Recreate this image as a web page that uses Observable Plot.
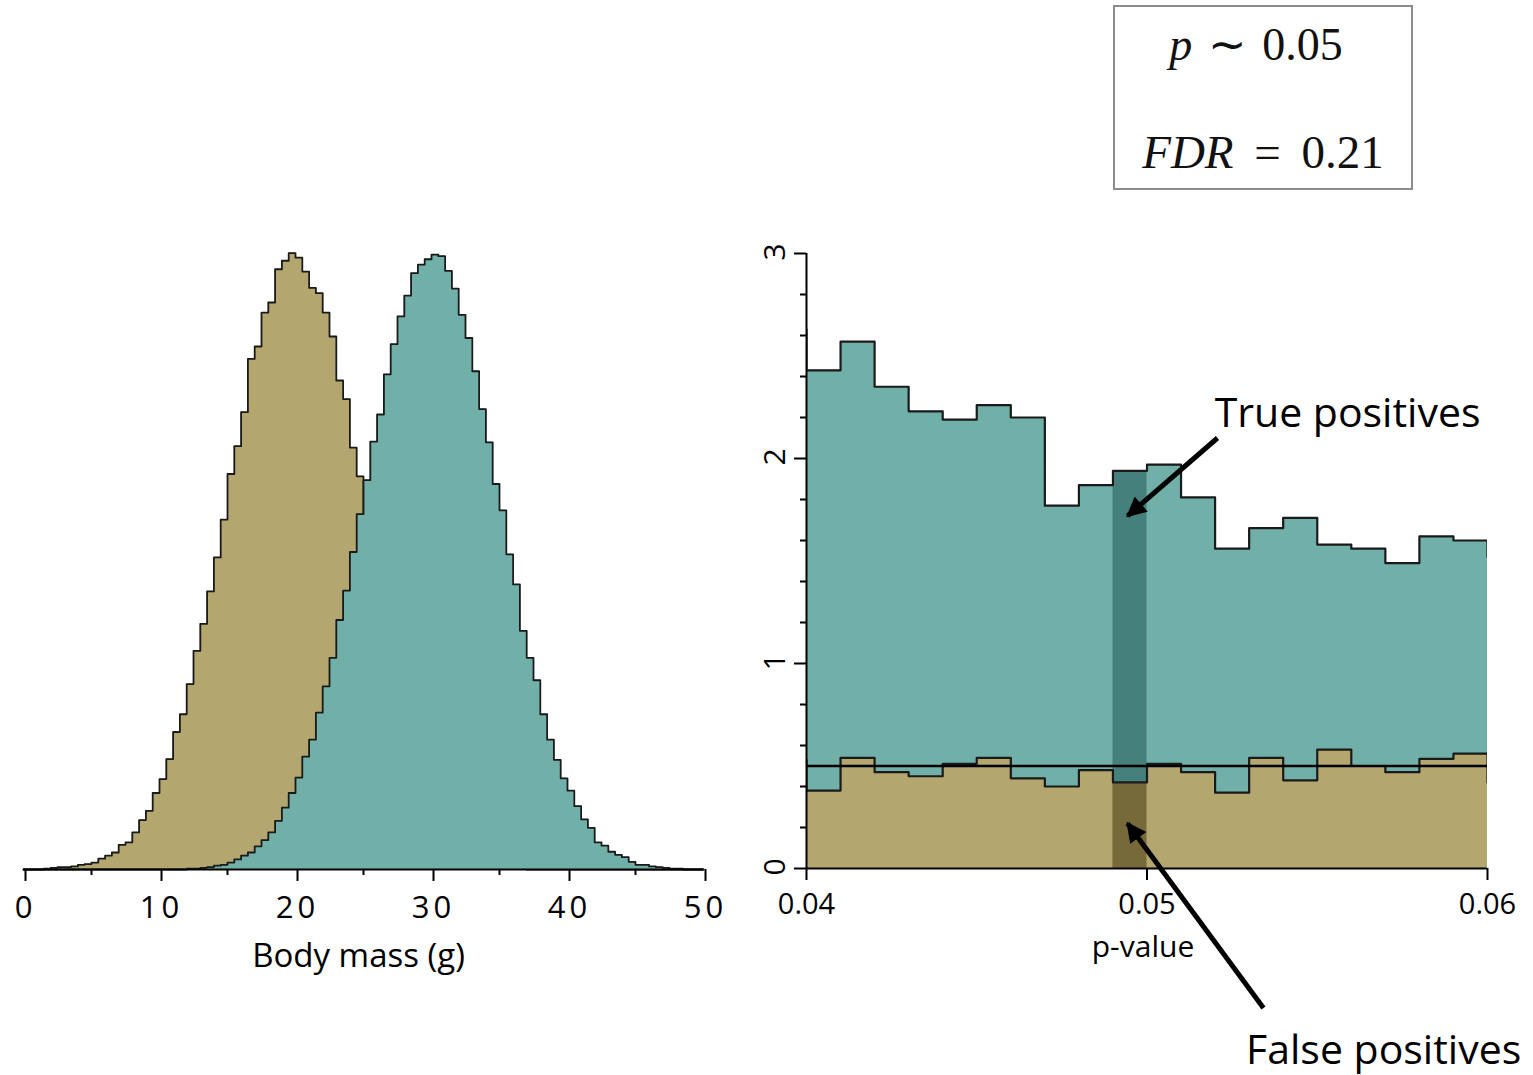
<!DOCTYPE html>
<html><head><meta charset="utf-8">
<script src="https://cdn.jsdelivr.net/npm/d3@7"></script>
<script src="https://cdn.jsdelivr.net/npm/@observablehq/plot@0.6"></script>
<style>
body{margin:0;background:#fff;width:1533px;height:1075px;position:relative;overflow:hidden;font-family:"Open Sans",sans-serif}
#left,#right{position:absolute;top:0}
#left{left:0}
#right{left:740px}
#left g[aria-label="x-axis tick label"] text{letter-spacing:4px}
#box{position:absolute;left:1113px;top:5px;width:296px;height:181px;border:2px solid #8c8c8c;font-family:"Liberation Serif",serif;font-size:46px;color:#111}
#box .ln{position:absolute;left:0;width:100%;text-align:center;line-height:50px;white-space:nowrap}
</style></head><body>
<div id="left"></div>
<div id="right"></div>
<div id="box">
  <div class="ln" style="top:13px;left:-7px;word-spacing:4px"><i>p</i> ∼ 0.05</div>
  <div class="ln" style="top:120px;word-spacing:9px;font-size:47px"><i>FDR</i> = 0.21</div>
</div>
<script>
// ---------- Left panel: body-mass histograms (bins of 0.5 g from 0 to 50 g) ----------
const massBinStart = 0;
const massBinWidth = 0.5;
// null population (mean ~20 g)
const nullMass = [
  0, 0, 0, 0.1, 0.2, 0.3, 0.3, 0.4, 0.6, 0.7,
  0.9, 1.4, 1.8, 2.2, 3.2, 3.5, 4.8, 6.4, 7.6, 9.9,
  11.7, 14.3, 17.8, 20.1, 24.0, 28.3, 31.8, 36.0, 40.4, 45.3,
  51.2, 54.8, 59.2, 66.1, 67.7, 72.1, 73.4, 77.7, 78.8, 79.8,
  79.2, 77.4, 75.3, 74.6, 72.1, 69.0, 63.3, 60.9, 54.6, 50.9,
  46.0, 41.5, 36.5, 32.0, 28.0, 24.0, 20.0, 17.0, 14.0, 11.5,
  9.5, 7.5, 6.0, 4.5, 3.5, 2.6, 2.0, 1.4, 1.0, 0.7,
  0.5, 0.3, 0.2, 0.1, 0, 0, 0, 0, 0, 0,
  0, 0, 0, 0, 0, 0, 0, 0, 0, 0,
  0, 0, 0, 0, 0, 0, 0, 0, 0, 0
];
// effect population (mean ~30 g)
const effectMass = [
  0, 0, 0, 0, 0, 0, 0, 0, 0, 0,
  0, 0, 0, 0, 0, 0, 0, 0, 0, 0,
  0, 0, 0, 0, 0.1, 0.1, 0.2, 0.3, 0.5, 0.6,
  0.9, 1.3, 1.8, 2.2, 3.0, 3.8, 4.8, 6.3, 8.0, 9.9,
  11.9, 14.6, 16.8, 20.3, 23.7, 27.4, 32.3, 36.1, 41.1, 46.0,
  50.4, 55.4, 58.9, 64.1, 68.0, 71.6, 74.3, 77.2, 78.3, 79.0,
  79.6, 79.4, 77.5, 75.2, 71.8, 68.8, 64.5, 59.6, 55.3, 49.9,
  46.5, 40.8, 36.9, 30.9, 27.4, 24.5, 20.1, 16.8, 14.2, 11.8,
  10.2, 8.2, 6.5, 5.4, 3.5, 3.1, 2.3, 1.9, 1.6, 1.0,
  0.6, 0.6, 0.4, 0.3, 0.2, 0.1, 0.1, 0, 0, 0
];
const massTicks = [0, 10, 20, 30, 40, 50];
const massMinorTicks = [5, 15, 25, 35, 45];
const massLabel = "Body mass (g)";

// ---------- Right panel: p-value densities (bins of 0.001, 0.039 .. 0.060) ----------
const pBinStartMilli = 39;
const pBinWidth = 0.001;
const pAll  = [2.63, 2.43, 2.57, 2.35, 2.23, 2.19, 2.26, 2.20, 1.77, 1.87, 1.94,
               1.97, 1.81, 1.56, 1.66, 1.71, 1.58, 1.56, 1.49, 1.62, 1.60, 1.52];
const pNull = [0.53, 0.38, 0.54, 0.47, 0.45, 0.51, 0.54, 0.44, 0.40, 0.48, 0.42,
               0.51, 0.47, 0.37, 0.54, 0.43, 0.58, 0.50, 0.47, 0.535, 0.56, 0.42];
const nullLevel = 0.5;
const highlightBin = 0.049;
const pTicks = [0.04, 0.05, 0.06];
const densityTicks = [0, 1, 2, 3];
const densityMinorTicks = [0.2, 0.4, 0.6, 0.8, 1.2, 1.4, 1.6, 1.8, 2.2, 2.4, 2.6, 2.8];
const pLabel = "p-value";
const annotations = [
  {label: "True positives",  tx: 0.05589, ty: 2.22,  x1: 0.05207, y1: 2.10,  x2: 0.04943, y2: 1.72},
  {label: "False positives", tx: 0.05695, ty: -0.89, x1: 0.05342, y1: -0.68, x2: 0.04943, y2: 0.22}
];

// ---------- colours ----------
const tanFill = "#b3a66f", tealFill = "#71b0a8";
const tanDark = "#766a3a", tealDark = "#45807c";
const outline = "#1a1a1a";

function stepPoints(values, xAt) {
  const pts = values.map((v, i) => ({x: xAt(i), y: v}));
  pts.push({x: xAt(values.length), y: values[values.length - 1]});
  return pts;
}

const nullMassPts = stepPoints(nullMass, i => massBinStart + i * massBinWidth);
const effectMassPts = stepPoints(effectMass, i => massBinStart + i * massBinWidth);
const pAllPts = stepPoints(pAll, i => (pBinStartMilli + i) / 1000);
const pNullPts = stepPoints(pNull, i => (pBinStartMilli + i) / 1000);

const fontStyle = {fontFamily: '"Open Sans", sans-serif', overflow: "visible", background: "transparent", color: "#000"};

const left = Plot.plot({
  width: 760, height: 1000,
  marginLeft: 23, marginRight: 57, marginTop: 251, marginBottom: 131,
  style: fontStyle,
  x: {domain: [0, 50], label: null},
  y: {domain: [0, 80], axis: null, label: null},
  marks: [
    Plot.areaY(nullMassPts, {x: "x", y: "y", curve: "step-after", fill: tanFill}),
    Plot.lineY(nullMassPts, {x: "x", y: "y", curve: "step-after", stroke: outline, strokeWidth: 1.8}),
    Plot.areaY(effectMassPts, {x: "x", y: "y", curve: "step-after", fill: tealFill}),
    Plot.lineY(effectMassPts, {x: "x", y: "y", curve: "step-after", stroke: outline, strokeWidth: 1.8}),
    Plot.ruleY([0], {stroke: "#000", strokeWidth: 2}),
    Plot.axisX(massTicks, {tickSize: 12, tickPadding: 14, fontSize: 31, strokeWidth: 2, dx: 2}),
    Plot.axisX(massMinorTicks, {tickSize: 6, strokeWidth: 2, tickFormat: () => ""}),
    Plot.text([massLabel], {frameAnchor: "bottom", dy: 97, dx: -5, fontSize: 33, text: d => d})
  ]
});
document.getElementById("left").appendChild(left);

const hi = Math.round(highlightBin * 1000) - pBinStartMilli;
const highlight = [{x1: highlightBin, x2: highlightBin + pBinWidth, lo: pNull[hi], hi: pAll[hi]}];

const right = Plot.plot({
  width: 793, height: 1075,
  marginLeft: 66, marginRight: 46, marginTop: 253, marginBottom: 207,
  style: fontStyle,
  x: {domain: [0.04, 0.06], label: null},
  y: {domain: [0, 3], label: null},
  marks: [
    Plot.areaY(pAllPts, {x: "x", y: "y", curve: "step-after", fill: tealFill, clip: true}),
    Plot.areaY(pNullPts, {x: "x", y: "y", curve: "step-after", fill: tanFill, clip: true}),
    Plot.rectY(highlight, {x1: "x1", x2: "x2", y1: "lo", y2: "hi", fill: tealDark}),
    Plot.rectY(highlight, {x1: "x1", x2: "x2", y1: 0, y2: "lo", fill: tanDark}),
    Plot.lineY(pAllPts, {x: "x", y: "y", curve: "step-after", stroke: outline, strokeWidth: 2.2, clip: true}),
    Plot.lineY(pNullPts, {x: "x", y: "y", curve: "step-after", stroke: outline, strokeWidth: 2.2, clip: true}),
    Plot.ruleY([nullLevel], {stroke: "#000", strokeWidth: 2.5}),
    Plot.ruleY([0], {stroke: "#000", strokeWidth: 2}),
    Plot.ruleX([0.04], {stroke: "#000", strokeWidth: 2}),
    Plot.axisX(pTicks, {tickSize: 12, tickPadding: 13, fontSize: 29, strokeWidth: 2, tickFormat: d3.format(".2f")}),
    Plot.axisY(densityTicks, {tickSize: 12, strokeWidth: 2, tickFormat: () => ""}),
    Plot.axisY(densityMinorTicks, {tickSize: 6, strokeWidth: 2, tickFormat: () => ""}),
    Plot.text(densityTicks, {y: d => d, text: d => String(d), frameAnchor: "left", dx: -31, dy: 7, rotate: -90, fontSize: 30}),
    Plot.text([pLabel], {x: 0.05, frameAnchor: "bottom", dy: 88, dx: -4, fontSize: 30, text: d => d}),
    Plot.link(annotations, {x1: "x1", y1: "y1", x2: "x2", y2: "y2", stroke: "#000", strokeWidth: 5}),
    Plot.text(annotations, {x: "tx", y: "ty", text: "label", fontSize: 41})
  ]
});
document.getElementById("right").appendChild(right);

// filled arrowheads for the annotation links
const svgR = d3.select(right.tagName.toLowerCase() === "svg" ? right : right.querySelector("svg"));
svgR.append("defs").append("marker")
  .attr("id", "ahead").attr("viewBox", "0 0 10 10").attr("refX", 9).attr("refY", 5)
  .attr("markerUnits", "userSpaceOnUse").attr("markerWidth", 24).attr("markerHeight", 20)
  .attr("orient", "auto")
  .append("path").attr("d", "M0,0L10,5L0,10Z").attr("fill", "#000");
svgR.selectAll('g[aria-label="link"] path').attr("marker-end", "url(#ahead)");
</script>
</body></html>
